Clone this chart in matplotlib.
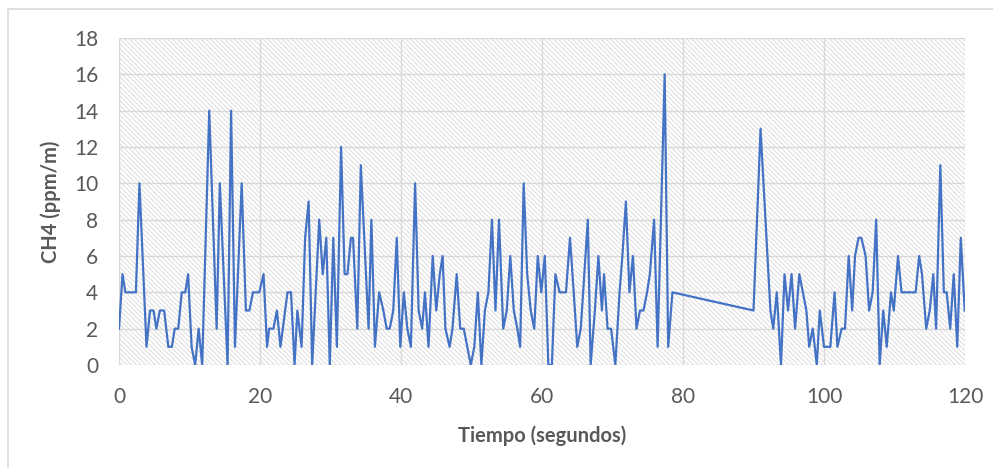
import matplotlib
matplotlib.use('Agg')
import matplotlib.pyplot as plt
from matplotlib.patches import Rectangle

# Tiempo (s) y CH4 (ppm/m)
tiempo = [0.0, 0.5, 0.9, 1.4, 1.9, 2.4, 2.9, 3.9, 4.4, 4.9, 5.3, 5.8, 6.4, 7.0, 7.5, 7.9,
          8.4, 8.9, 9.4, 9.8, 10.3, 10.8, 11.3, 11.8, 12.8, 13.85, 14.3, 15.4, 15.9, 16.45,
          17.4, 18.0, 18.5, 19.0, 19.5, 19.9, 20.5, 21.0, 21.3, 21.9, 22.4, 22.9, 23.9, 24.4,
          24.9, 25.3, 25.9, 26.4, 26.9, 27.4, 28.4, 28.9, 29.4, 29.9, 30.4, 30.9, 31.5, 32.0,
          32.4, 32.9, 33.2, 33.8, 34.3, 35.4, 35.8, 36.3, 36.9, 37.5, 37.97, 38.4, 38.9, 39.4,
          39.9, 40.4, 40.9, 41.4, 42.0, 42.5, 43.0, 43.4, 43.9, 44.5, 45.0, 45.5, 45.9, 46.3,
          46.9, 47.3, 47.9, 48.4, 48.9, 49.4, 49.9, 50.4, 50.9, 51.4, 51.9, 52.4, 52.9, 53.4,
          53.9, 54.5, 55.0, 55.5, 56.0, 56.5, 56.9, 57.4, 57.9, 58.4, 58.9, 59.4, 59.9, 60.4,
          60.9, 61.4, 61.9, 62.5, 62.9, 63.4, 63.97, 64.5, 65.0, 65.5, 66.0, 66.5, 66.9, 67.5,
          68.0, 68.5, 68.8, 69.3, 69.8, 70.4, 71.0, 71.4, 71.9, 72.4, 72.9, 73.4, 73.9, 74.4,
          74.9, 75.3, 75.9, 76.4, 77.4, 77.9, 78.5, 90.0, 91.0, 92.4, 92.8, 93.3, 93.9, 94.4,
          94.9, 95.4, 95.9, 96.5, 97.0, 97.5, 97.9, 98.4, 98.98, 99.4, 100.0, 100.5, 100.9, 101.5,
          101.9, 102.5, 102.98, 103.5, 104.0, 104.4, 104.9, 105.3, 105.9, 106.4, 106.9, 107.4, 107.9, 108.4,
          108.9, 109.5, 109.9, 110.5, 111.0, 111.5, 112.0, 112.5, 113.0, 113.5, 113.9, 114.5, 115.0, 115.5,
          115.9, 116.5, 117.0, 117.4, 117.9, 118.4, 118.9, 119.4, 119.96]
ch4 = [2, 5, 4, 4, 4, 4, 10, 1, 3, 3, 2, 3, 3, 1, 1, 2,
       2, 4, 4, 5, 1, 0, 2, 0, 14, 2, 10, 0, 14, 1,
       10, 3, 3, 4, 4, 4, 5, 1, 2, 2, 3, 1, 4, 4,
       0, 3, 1, 7, 9, 0, 8, 5, 7, 0, 7, 1, 12, 5,
       5, 7, 7, 2, 11, 2, 8, 1, 4, 3, 2, 2, 3, 7,
       1, 4, 2, 1, 10, 3, 2, 4, 1, 6, 3, 5, 6, 2,
       1, 2, 5, 2, 2, 1, 0, 1, 4, 0, 3, 4, 8, 3,
       8, 2, 3, 6, 3, 2, 1, 10, 5, 3, 2, 6, 4, 6,
       0, 0, 5, 4, 4, 4, 7, 4, 1, 2, 5, 8, 0, 3,
       6, 3, 5, 2, 2, 0, 4, 6, 9, 4, 6, 2, 3, 3,
       4, 5, 8, 1, 16, 1, 4, 3, 13, 3, 2, 4, 0, 5,
       3, 5, 2, 5, 4, 3, 1, 2, 0, 3, 1, 1, 1, 4,
       1, 2, 2, 6, 3, 6, 7, 7, 6, 3, 4, 8, 0, 3,
       1, 4, 3, 6, 4, 4, 4, 4, 4, 6, 5, 2, 3, 5,
       2, 11, 4, 4, 2, 5, 1, 7, 3]

x_ticks = [0, 20, 40, 60, 80, 100, 120]
y_ticks = [0, 2, 4, 6, 8, 10, 12, 14, 16, 18]

plt.rcParams['font.family'] = ['Lato', 'DejaVu Sans']
plt.rcParams['hatch.linewidth'] = 0.7

fig = plt.figure(figsize=(9.93, 4.68), dpi=100)
# borde del area del grafico
fig.patches.append(Rectangle((8 / 993, -0.05), 1.1, 1 - 9 / 468 + 0.05, transform=fig.transFigure,
                             facecolor='none', edgecolor='#d9d9d9', linewidth=1.2))

ax = fig.add_axes([119 / 993, 1 - 365 / 468, 846 / 993, 327 / 468])
ax.add_patch(Rectangle((0, 0), 1, 1, transform=ax.transAxes, facecolor='white',
                       edgecolor='#dcdcdc', hatch='\\\\\\\\\\\\\\', linewidth=0, zorder=0))

ax.plot(tiempo, ch4, color='#4472C4', linewidth=1.6, zorder=3)

ax.set_xlim(0, 120)
ax.set_ylim(0, 18)
ax.set_xticks(x_ticks)
ax.set_yticks(y_ticks)
ax.grid(True, color='#d9d9d9', linewidth=1)
ax.set_axisbelow(True)
for s in ax.spines.values():
    s.set_visible(False)
ax.tick_params(length=0, labelsize=15, labelcolor='#595959')
ax.tick_params(axis='y', pad=15)
ax.tick_params(axis='x', pad=16)

ax.set_xlabel('Tiempo (segundos)', fontsize=14.5, fontweight='bold', color='#595959', labelpad=13)
ax.set_ylabel('CH4 (ppm/m)', fontsize=14.5, fontweight='bold', color='#595959', labelpad=9)

fig.savefig('out.png', dpi=100)
